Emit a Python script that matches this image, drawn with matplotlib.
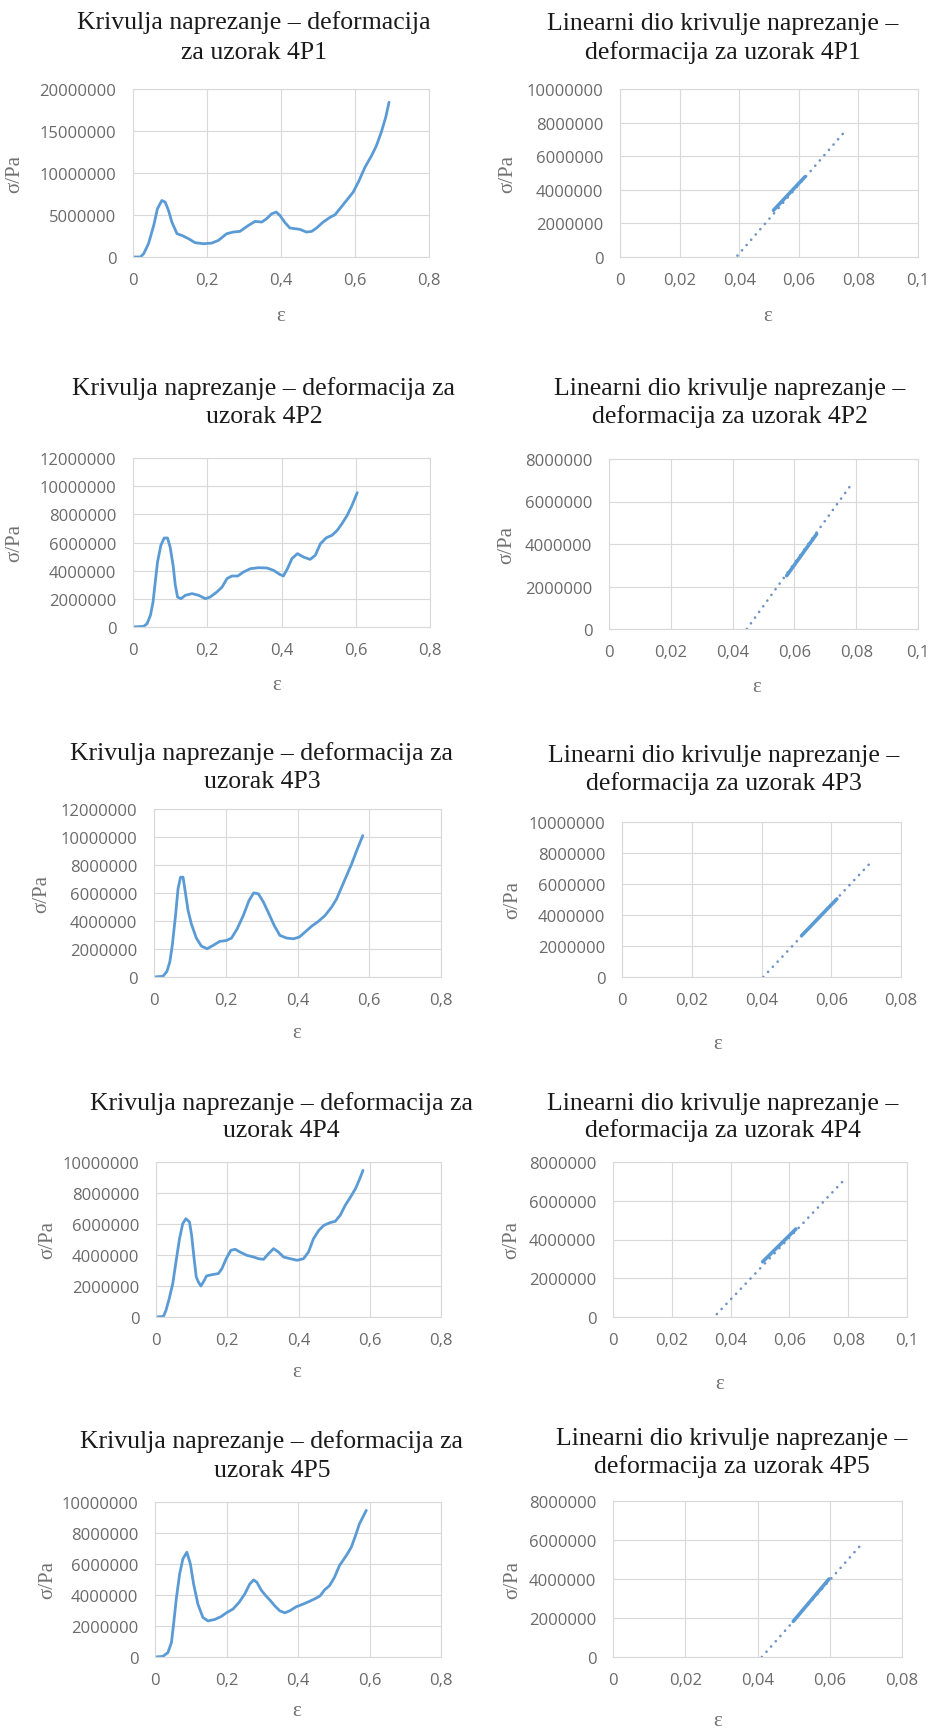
import matplotlib
matplotlib.use('Agg')
import matplotlib.pyplot as plt
from matplotlib.ticker import FuncFormatter

# ---------------- data ----------------
samples = ['4P1', '4P2', '4P3', '4P4', '4P5']

eps_4P1 = [0, 0.02, 0.029, 0.042, 0.056, 0.066, 0.078, 0.087, 0.096, 0.105, 0.119, 0.132, 0.150,
           0.168, 0.191, 0.213, 0.231, 0.253, 0.271, 0.289, 0.312, 0.330, 0.348, 0.361, 0.375,
           0.387, 0.397, 0.411, 0.424, 0.438, 0.451, 0.469, 0.483, 0.496, 0.514, 0.532, 0.546,
           0.559, 0.577, 0.595, 0.609, 0.627, 0.645, 0.658, 0.671, 0.683, 0.692]
sig_4P1 = [0, 0, 0.4e6, 1.6e6, 3.76e6, 5.74e6, 6.73e6, 6.53e6, 5.54e6, 4.16e6, 2.77e6, 2.57e6, 2.18e6,
           1.70e6, 1.58e6, 1.66e6, 1.98e6, 2.77e6, 2.97e6, 3.05e6, 3.76e6, 4.24e6, 4.16e6, 4.55e6, 5.15e6,
           5.35e6, 4.95e6, 4.08e6, 3.45e6, 3.37e6, 3.29e6, 2.97e6, 3.05e6, 3.45e6, 4.16e6, 4.71e6, 5.03e6,
           5.74e6, 6.73e6, 7.72e6, 8.91e6, 10.69e6, 12.08e6, 13.27e6, 14.85e6, 16.63e6, 18.42e6]

eps_4P2 = [0, 0.029, 0.038, 0.047, 0.054, 0.060, 0.066, 0.075, 0.084, 0.093, 0.100, 0.108, 0.114,
           0.120, 0.129, 0.141, 0.159, 0.177, 0.195, 0.208, 0.226, 0.240, 0.253, 0.266, 0.282, 0.298,
           0.316, 0.338, 0.361, 0.379, 0.395, 0.405, 0.416, 0.428, 0.443, 0.459, 0.477, 0.491, 0.505,
           0.521, 0.536, 0.550, 0.563, 0.577, 0.590, 0.604]
sig_4P2 = [0, 0.05e6, 0.24e6, 0.83e6, 1.78e6, 3.2e6, 4.6e6, 5.8e6, 6.32e6, 6.32e6, 5.68e6, 4.38e6, 2.96e6,
           2.13e6, 2.01e6, 2.25e6, 2.37e6, 2.25e6, 2.01e6, 2.13e6, 2.49e6, 2.84e6, 3.43e6, 3.62e6, 3.62e6, 3.91e6,
           4.14e6, 4.21e6, 4.19e6, 4.02e6, 3.74e6, 3.62e6, 4.14e6, 4.85e6, 5.21e6, 4.97e6, 4.80e6, 5.09e6, 5.92e6,
           6.34e6, 6.51e6, 6.86e6, 7.34e6, 7.93e6, 8.64e6, 9.54e6]

eps_4P3 = [0, 0.025, 0.036, 0.044, 0.051, 0.060, 0.067, 0.074, 0.081, 0.088, 0.095, 0.104, 0.118,
           0.132, 0.148, 0.165, 0.183, 0.202, 0.216, 0.232, 0.249, 0.265, 0.278, 0.291, 0.305, 0.319,
           0.335, 0.351, 0.370, 0.388, 0.405, 0.421, 0.440, 0.458, 0.477, 0.495, 0.509, 0.523, 0.537,
           0.551, 0.565, 0.582]
sig_4P3 = [0, 0.05e6, 0.40e6, 1.07e6, 2.26e6, 4.40e6, 6.30e6, 7.13e6, 7.13e6, 5.94e6, 4.75e6, 3.80e6, 2.78e6,
           2.21e6, 2.02e6, 2.26e6, 2.54e6, 2.61e6, 2.78e6, 3.45e6, 4.40e6, 5.47e6, 6.01e6, 5.94e6, 5.35e6, 4.59e6,
           3.68e6, 2.97e6, 2.78e6, 2.73e6, 2.85e6, 3.21e6, 3.64e6, 3.97e6, 4.40e6, 4.99e6, 5.58e6, 6.42e6, 7.25e6,
           8.08e6, 9.03e6, 10.10e6]

eps_4P4 = [0, 0.021, 0.028, 0.037, 0.047, 0.056, 0.066, 0.075, 0.084, 0.094, 0.100, 0.107, 0.113,
           0.119, 0.126, 0.133, 0.142, 0.157, 0.175, 0.185, 0.197, 0.210, 0.222, 0.236, 0.255, 0.274,
           0.288, 0.302, 0.316, 0.330, 0.344, 0.358, 0.377, 0.396, 0.414, 0.428, 0.442, 0.457, 0.471,
           0.489, 0.503, 0.517, 0.531, 0.546, 0.560, 0.572, 0.581]
sig_4P4 = [0, 0.04e6, 0.43e6, 1.18e6, 2.15e6, 3.55e6, 5.05e6, 6.02e6, 6.34e6, 6.13e6, 5.27e6, 3.76e6, 2.58e6,
           2.26e6, 2.00e6, 2.26e6, 2.65e6, 2.73e6, 2.80e6, 3.12e6, 3.76e6, 4.30e6, 4.37e6, 4.19e6, 3.98e6, 3.87e6,
           3.76e6, 3.72e6, 4.09e6, 4.41e6, 4.19e6, 3.87e6, 3.76e6, 3.66e6, 3.76e6, 4.19e6, 5.05e6, 5.59e6, 5.91e6,
           6.09e6, 6.17e6, 6.56e6, 7.20e6, 7.74e6, 8.28e6, 8.92e6, 9.46e6]

eps_4P5 = [0, 0.022, 0.036, 0.046, 0.052, 0.060, 0.069, 0.078, 0.089, 0.099, 0.108, 0.120, 0.134,
           0.148, 0.167, 0.185, 0.201, 0.218, 0.235, 0.251, 0.265, 0.276, 0.285, 0.297, 0.310, 0.323,
           0.335, 0.349, 0.363, 0.377, 0.395, 0.414, 0.432, 0.451, 0.462, 0.474, 0.488, 0.502, 0.516,
           0.535, 0.549, 0.561, 0.572, 0.591]
sig_4P5 = [0, 0.04e6, 0.28e6, 0.93e6, 2.12e6, 3.84e6, 5.36e6, 6.33e6, 6.76e6, 6.00e6, 4.71e6, 3.41e6, 2.55e6,
           2.33e6, 2.42e6, 2.61e6, 2.87e6, 3.09e6, 3.52e6, 4.06e6, 4.71e6, 4.97e6, 4.82e6, 4.32e6, 3.95e6, 3.63e6,
           3.30e6, 2.98e6, 2.85e6, 2.98e6, 3.24e6, 3.41e6, 3.59e6, 3.80e6, 3.95e6, 4.32e6, 4.60e6, 5.14e6, 5.90e6,
           6.54e6, 7.08e6, 7.84e6, 8.60e6, 9.46e6]

# linear part (measured segment) and trendline
lin_eps_4P1 = [0.0515, 0.0621];  lin_sig_4P1 = [2.78e6, 4.78e6]
trend_eps_4P1 = [0.0394, 0.0753]; trend_sig_4P1 = [0.08e6, 7.44e6]
lin_eps_4P2 = [0.0575, 0.0672];  lin_sig_4P2 = [2.51e6, 4.47e6]
trend_eps_4P2 = [0.0446, 0.0785]; trend_sig_4P2 = [0.0, 6.82e6]
lin_eps_4P3 = [0.0515, 0.0616];  lin_sig_4P3 = [2.67e6, 5.03e6]
trend_eps_4P3 = [0.0405, 0.0718]; trend_sig_4P3 = [0.0, 7.5e6]
lin_eps_4P4 = [0.0509, 0.0622];  lin_sig_4P4 = [2.85e6, 4.54e6]
trend_eps_4P4 = [0.0353, 0.0789]; trend_sig_4P4 = [0.15e6, 7.12e6]
lin_eps_4P5 = [0.0499, 0.0598];  lin_sig_4P5 = [1.83e6, 4.0e6]
trend_eps_4P5 = [0.0412, 0.0682]; trend_sig_4P5 = [0.0, 5.66e6]

curves = {'4P1': (eps_4P1, sig_4P1), '4P2': (eps_4P2, sig_4P2), '4P3': (eps_4P3, sig_4P3),
          '4P4': (eps_4P4, sig_4P4), '4P5': (eps_4P5, sig_4P5)}
linear = {'4P1': (lin_eps_4P1, lin_sig_4P1, trend_eps_4P1, trend_sig_4P1),
          '4P2': (lin_eps_4P2, lin_sig_4P2, trend_eps_4P2, trend_sig_4P2),
          '4P3': (lin_eps_4P3, lin_sig_4P3, trend_eps_4P3, trend_sig_4P3),
          '4P4': (lin_eps_4P4, lin_sig_4P4, trend_eps_4P4, trend_sig_4P4),
          '4P5': (lin_eps_4P5, lin_sig_4P5, trend_eps_4P5, trend_sig_4P5)}

left_ymax = {'4P1': 20e6, '4P2': 12e6, '4P3': 12e6, '4P4': 10e6, '4P5': 10e6}
left_ystep = {'4P1': 5e6, '4P2': 2e6, '4P3': 2e6, '4P4': 2e6, '4P5': 2e6}
right_ymax = {'4P1': 10e6, '4P2': 8e6, '4P3': 10e6, '4P4': 8e6, '4P5': 8e6}
right_xmax = {'4P1': 0.1, '4P2': 0.1, '4P3': 0.08, '4P4': 0.1, '4P5': 0.08}

left_title = {
    '4P1': ['Krivulja naprezanje – deformacija', 'za uzorak 4P1'],
    '4P2': ['Krivulja naprezanje – deformacija za', 'uzorak 4P2'],
    '4P3': ['Krivulja naprezanje – deformacija za', 'uzorak 4P3'],
    '4P4': ['Krivulja naprezanje – deformacija za', 'uzorak 4P4'],
    '4P5': ['Krivulja naprezanje – deformacija za', 'uzorak 4P5'],
}
right_title = {s: ['Linearni dio krivulje naprezanje –', 'deformacija za uzorak ' + s] for s in samples}

# ---------------- layout (pixels) ----------------
W, H = 929, 1731
fig = plt.figure(figsize=(W / 100, H / 100), dpi=100)

# axes boxes: left, top, right, bottom
left_boxes = {'4P1': (133, 90, 429, 258), '4P2': (133, 459, 430, 628), '4P3': (154, 810, 441, 978),
              '4P4': (156, 1163, 441, 1318), '4P5': (155, 1503, 441, 1658)}
right_boxes = {'4P1': (620, 90, 918, 258), '4P2': (609, 460, 918, 630), '4P3': (622, 823, 901, 978),
               '4P4': (613, 1163, 907, 1318), '4P5': (613, 1502, 902, 1658)}
# title: center x, baseline1, baseline2
left_tpos = {'4P1': (254, 29, 59), '4P2': (264, 395, 423), '4P3': (262, 760, 788),
             '4P4': (281, 1110, 1137), '4P5': (272, 1448, 1477)}
right_tpos = {'4P1': (723, 30, 59), '4P2': (730, 395, 423), '4P3': (724, 762, 790),
              '4P4': (723, 1110, 1137), '4P5': (732, 1445, 1473)}
# ylabel x, xlabel (x, y)
left_ylab = {'4P1': 15, '4P2': 15, '4P3': 42, '4P4': 48, '4P5': 48}
right_ylab = {'4P1': 508, '4P2': 507, '4P3': 513, '4P4': 512, '4P5': 513}
left_xlab = {'4P1': (281, 317), '4P2': (277, 685), '4P3': (297, 1033), '4P4': (297, 1373), '4P5': (297, 1712)}
right_xlab = {'4P1': (768, 317), '4P2': (757, 688), '4P3': (718, 1045), '4P4': (720, 1385), '4P5': (718, 1722)}

BLUE = '#5B9BD5'
GRID = '#d9d9d9'
TICKC = '#6a6a6a'
TICKFONT = 'Open Sans'
SERIF = 'Liberation Serif'


def fx(px):
    return px / W


def fy(py):
    return 1 - py / H


def make_axes(box):
    l, t, r, b = box
    ax = fig.add_axes([fx(l), fy(b), (r - l) / W, (b - t) / H])
    for sp in ax.spines.values():
        sp.set_color(GRID)
        sp.set_linewidth(0.8)
    ax.grid(True, color=GRID, linewidth=0.8)
    ax.set_axisbelow(True)
    ax.tick_params(length=0, labelcolor=TICKC, labelsize=12, pad=11)
    ax.tick_params(axis='y', pad=12)
    return ax


def fmt_x(v, pos):
    s = ('%.2f' % v).rstrip('0').rstrip('.')
    return s.replace('.', ',')


def fmt_y(v, pos):
    return '%d' % round(v)


def style_ticks(ax):
    ax.xaxis.set_major_formatter(FuncFormatter(fmt_x))
    ax.yaxis.set_major_formatter(FuncFormatter(fmt_y))
    for lab in ax.get_xticklabels() + ax.get_yticklabels():
        lab.set_fontfamily(TICKFONT)


def titles(pos, lines):
    cx, b1, b2 = pos
    fig.text(fx(cx), fy(b1), lines[0], ha='center', va='baseline', fontsize=18.5,
             family=SERIF, color='#1a1a1a')
    fig.text(fx(cx), fy(b2), lines[1], ha='center', va='baseline', fontsize=18.5,
             family=SERIF, color='#1a1a1a')


def labels(box, ylx, xl):
    l, t, r, b = box
    fig.text(fx(ylx), fy((t + b) / 2), 'σ/Pa', rotation=90, ha='center', va='center',
             fontsize=15, family=SERIF, color='#707070')
    fig.text(fx(xl[0]), fy(xl[1]), 'ε', ha='center', va='center',
             fontsize=15, family=SERIF, color='#707070')


for s in samples:
    # full curve
    ax = make_axes(left_boxes[s])
    e, sg = curves[s]
    ax.plot(e, sg, color=BLUE, linewidth=2.0, solid_joinstyle='round', solid_capstyle='round')
    ax.set_xlim(0, 0.8)
    ax.set_xticks([0, 0.2, 0.4, 0.6, 0.8])
    ymax = left_ymax[s]
    ax.set_ylim(0, ymax)
    n = int(round(ymax / left_ystep[s]))
    ax.set_yticks([i * left_ystep[s] for i in range(n + 1)])
    style_ticks(ax)
    titles(left_tpos[s], left_title[s])
    labels(left_boxes[s], left_ylab[s], left_xlab[s])

    # linear part
    ax = make_axes(right_boxes[s])
    le, ls, te, ts = linear[s]
    ax.plot(te, ts, color='#6f93c4', linewidth=1.9, linestyle=(0, (0.05, 2.6)),
            dash_capstyle='round')
    ax.plot(le, ls, color=BLUE, linewidth=2.6, solid_capstyle='round')
    xmax = right_xmax[s]
    ax.set_xlim(0, xmax)
    ax.set_xticks([i * 0.02 for i in range(int(round(xmax / 0.02)) + 1)])
    ymax = right_ymax[s]
    ax.set_ylim(0, ymax)
    ax.set_yticks([i * 2e6 for i in range(int(round(ymax / 2e6)) + 1)])
    style_ticks(ax)
    titles(right_tpos[s], right_title[s])
    labels(right_boxes[s], right_ylab[s], right_xlab[s])

fig.savefig('out.png', dpi=100, facecolor='white')
